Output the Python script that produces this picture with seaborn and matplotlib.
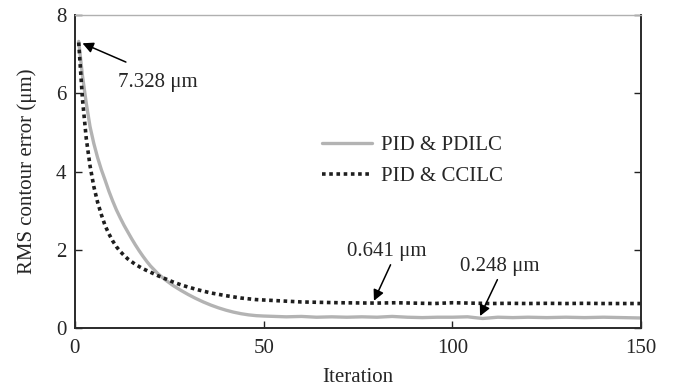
import matplotlib
matplotlib.use("Agg")
import matplotlib.pyplot as plt
import seaborn as sns
import pandas as pd

# ---- data ----
pdilc_iter = [1, 2, 3, 4, 5, 6, 7, 8, 9, 10, 11, 12, 13, 14, 15, 16, 17, 18, 19, 20,
              22, 24, 26, 28, 30, 32, 34, 36, 38, 40, 42, 44, 46, 48, 50, 53, 56, 60,
              64, 68, 72, 76, 80, 84, 88, 92, 96, 100, 104, 108, 112, 116, 120, 125,
              130, 135, 140, 145, 150]
pdilc_rms = [7.328, 6.45, 5.75, 5.15, 4.72, 4.36, 4.05, 3.78, 3.50, 3.25, 3.02, 2.82,
             2.63, 2.46, 2.29, 2.13, 1.98, 1.84, 1.71, 1.59, 1.39, 1.23, 1.09, 0.97,
             0.86, 0.76, 0.67, 0.59, 0.52, 0.46, 0.41, 0.37, 0.34, 0.32, 0.31, 0.30,
             0.29, 0.30, 0.28, 0.29, 0.28, 0.29, 0.28, 0.30, 0.28, 0.27, 0.28, 0.28,
             0.29, 0.248, 0.28, 0.27, 0.28, 0.27, 0.28, 0.27, 0.28, 0.27, 0.26]

ccilc_iter = [1, 2, 3, 4, 5, 6, 7, 8, 9, 10, 11, 12, 13, 14, 16, 18, 20, 22, 24, 26,
              28, 30, 33, 36, 40, 44, 48, 52, 56, 60, 65, 70, 75, 80, 85, 90, 95, 100,
              105, 110, 115, 120, 125, 130, 135, 140, 145, 150]
ccilc_rms = [7.30, 5.85, 4.85, 4.15, 3.62, 3.22, 2.90, 2.62, 2.41, 2.23, 2.08, 1.96,
             1.86, 1.77, 1.63, 1.52, 1.43, 1.34, 1.26, 1.18, 1.11, 1.05, 0.97, 0.90,
             0.83, 0.77, 0.73, 0.71, 0.69, 0.67, 0.66, 0.65, 0.645, 0.641, 0.65, 0.64,
             0.63, 0.65, 0.64, 0.63, 0.635, 0.63, 0.635, 0.63, 0.635, 0.63, 0.63, 0.63]

series_names = ["PID & PDILC", "PID & CCILC"]
x_ticks = [0, 50, 100, 150]
y_ticks = [0, 2, 4, 6, 8]
annotations = ["7.328 μm", "0.641 μm", "0.248 μm"]

# ---- plotting ----
sns.set_style("ticks")
plt.rcParams["font.family"] = ["Liberation Serif", "DejaVu Serif"]

FS = 15
fig = plt.figure(figsize=(6.75, 3.87), dpi=100)
ax = fig.add_axes([0.111, 0.152, 0.839, 0.809])

df1 = pd.DataFrame({"Iteration": pdilc_iter, "RMS": pdilc_rms})
df2 = pd.DataFrame({"Iteration": ccilc_iter, "RMS": ccilc_rms})

sns.lineplot(data=df1, x="Iteration", y="RMS", ax=ax, color="#b3b3b3", lw=2.4,
             label=series_names[0])
sns.lineplot(data=df2, x="Iteration", y="RMS", ax=ax, color="#1e1e1e", lw=2.6,
             label=series_names[1])
ax.lines[1].set_linestyle((0, (1.0, 1.0)))

ax.set_xlim(0, 150)
ax.set_ylim(0, 8)
ax.set_xticks(x_ticks)
ax.set_yticks(y_ticks)
ax.tick_params(direction="in", length=5, width=1, labelsize=FS, right=True,
               color="#222222", pad=6)
ax.tick_params(axis="x", pad=8)
ax.set_xlabel("Iteration", fontsize=FS, labelpad=7)
ax.set_ylabel("RMS contour error (μm)", fontsize=FS, labelpad=14)

for side in ["left", "bottom", "right"]:
    ax.spines[side].set_linewidth(1.4)
    ax.spines[side].set_color("#2a2a2a")
ax.spines["top"].set_linewidth(1.0)
ax.spines["top"].set_color("#b0b0b0")

leg = ax.legend(loc="center left", bbox_to_anchor=(0.403, 0.535), frameon=False,
                fontsize=FS, handlelength=2.4, handletextpad=0.45, labelspacing=0.55)

arrow = dict(arrowstyle="-|>", color="black", lw=1.1, mutation_scale=16,
             shrinkA=0, shrinkB=0)
ax.text(11.3, 6.27, annotations[0], fontsize=FS, va="center", ha="left")
ax.annotate("", xy=(2.0, 7.28), xytext=(13.5, 6.8), arrowprops=arrow)
ax.text(82.7, 1.97, annotations[1], fontsize=FS, va="center", ha="center")
ax.annotate("", xy=(79.2, 0.70), xytext=(83.6, 1.62), arrowprops=arrow)
ax.text(112.6, 1.58, annotations[2], fontsize=FS, va="center", ha="center")
ax.annotate("", xy=(107.3, 0.31), xytext=(111.9, 1.24), arrowprops=arrow)

fig.savefig("out.png", dpi=100)
